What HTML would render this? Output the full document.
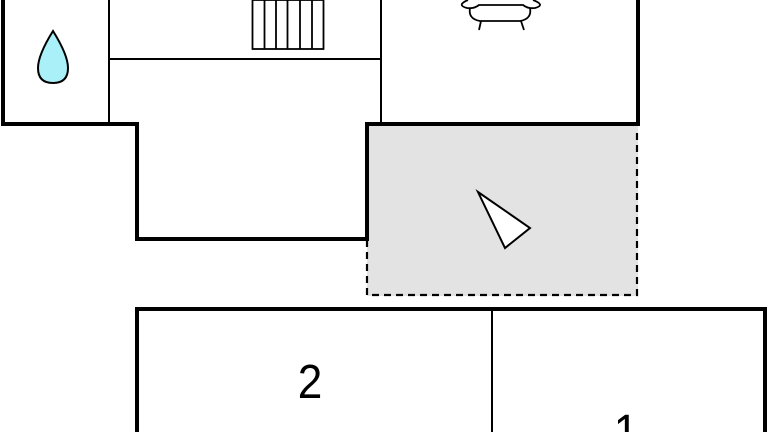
<!DOCTYPE html>
<html><head><meta charset="utf-8"><style>
html,body{margin:0;padding:0;background:#fff;width:768px;height:432px;overflow:hidden;}
svg{display:block;}
text{font-family:"Liberation Sans",sans-serif;}
</style></head><body>
<svg width="768" height="432" viewBox="0 0 768 432" xmlns="http://www.w3.org/2000/svg">
<rect x="367" y="124" width="271" height="172" fill="#e3e3e3"/>
<g stroke="#000" fill="none">
<line x1="109" y1="0" x2="109" y2="124" stroke-width="2"/>
<line x1="109" y1="59" x2="381" y2="59" stroke-width="2"/>
<line x1="381" y1="0" x2="381" y2="124" stroke-width="2"/>
<polyline points="3,0 3,124 137,124 137,239 367,239 367,124 638,124 638,0" stroke-width="4"/>
<polyline points="367,240 367,295 637,295 637,130" stroke-width="2.2" stroke-dasharray="7,5"/>
<rect x="252.5" y="0" width="71" height="49" stroke-width="1.8"/>
<line x1="264.5" y1="0" x2="264.5" y2="49" stroke-width="1.8"/>
<line x1="276" y1="0" x2="276" y2="49" stroke-width="1.8"/>
<line x1="287.5" y1="0" x2="287.5" y2="49" stroke-width="1.8"/>
<line x1="300" y1="0" x2="300" y2="49" stroke-width="1.8"/>
<line x1="312" y1="0" x2="312" y2="49" stroke-width="1.8"/>
<path d="M468,0 Q456,5 467,8 Q474,9 479,5 L523,5 Q528,9 535,8 Q546,5 533,0" stroke-width="1.8"/>
<path d="M470,8 Q468,19 480,21 L520,21 Q532,19 530,8" stroke-width="1.8"/>
<line x1="481" y1="21" x2="479" y2="30" stroke-width="1.8"/>
<line x1="521" y1="21" x2="524" y2="30" stroke-width="1.8"/>
<polygon points="478,192 530,228 505,248" fill="#fff" stroke-width="2"/>
<path d="M53,31 Q38,55 38,68 Q38,83 53,83 Q68,83 68,68 Q68,55 53,31 Z" fill="#aaf0f8" stroke-width="2"/>
<polyline points="137,432 137,309 765,309 765,432" stroke-width="4"/>
<line x1="492" y1="309" x2="492" y2="432" stroke-width="2"/>
</g>
<text x="0" y="0" font-size="48" text-anchor="middle" transform="translate(310,398) scale(0.92,1)">2</text>
<text x="0" y="0" font-size="48" text-anchor="middle" transform="translate(626,448) scale(0.92,1)">1</text>
</svg>
</body></html>
